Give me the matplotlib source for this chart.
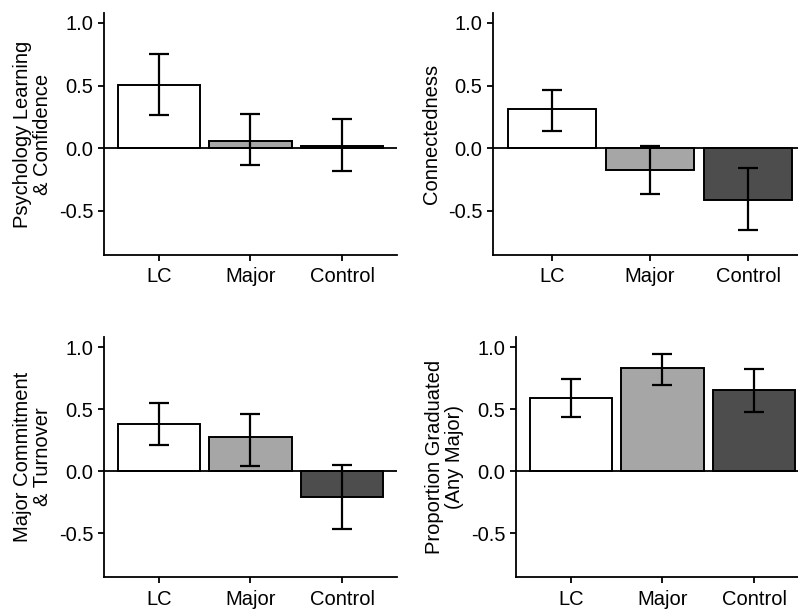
import numpy as np
import matplotlib.pyplot as plt

plt.rcParams['font.family'] = ['Liberation Sans', 'DejaVu Sans']

# groups and fills
groups = ['LC', 'Major', 'Control']
fills = ['#FFFFFF', '#A6A6A6', '#4D4D4D']

# values: mean, lower and upper error bound
learn_mean = [0.505, 0.058, 0.018]
learn_lo = [0.266, -0.138, -0.181]
learn_hi = [0.750, 0.271, 0.232]

conn_mean = [0.316, -0.176, -0.412]
conn_lo = [0.136, -0.364, -0.657]
conn_hi = [0.465, 0.013, -0.160]

commit_mean = [0.378, 0.274, -0.213]
commit_lo = [0.207, 0.037, -0.471]
commit_hi = [0.545, 0.463, 0.050]

grad_mean = [0.590, 0.832, 0.657]
grad_lo = [0.436, 0.694, 0.476]
grad_hi = [0.745, 0.947, 0.824]

panels = [
    ('Psychology Learning\n& Confidence', learn_mean, learn_lo, learn_hi, [0.1303, 0.5813, 0.3672, 0.3974]),
    ('Connectedness', conn_mean, conn_lo, conn_hi, [0.6178, 0.5813, 0.3935, 0.3974]),
    ('Major Commitment\n& Turnover', commit_mean, commit_lo, commit_hi, [0.1303, 0.0525, 0.3672, 0.3940]),
    ('Proportion Graduated\n(Any Major)', grad_mean, grad_lo, grad_hi, [0.6466, 0.0525, 0.3672, 0.3940]),
]

fig = plt.figure(figsize=(7.98, 6.09), dpi=100)

for label, mean, lo, hi, rect in panels:
    ax = fig.add_axes(rect)
    x = np.arange(1, len(groups) + 1)
    mean = np.array(mean)
    yerr = [mean - np.array(lo), np.array(hi) - mean]
    ax.bar(x, mean, width=0.9, color=fills, edgecolor='black', linewidth=1.4, zorder=2)
    ax.axhline(0, color='black', linewidth=1.3, zorder=2.5)
    ax.errorbar(x, mean, yerr=yerr, fmt='none', ecolor='black', elinewidth=1.6,
                capsize=7, capthick=1.6, zorder=3)
    ax.set_xlim(0.4, 3.6)
    ax.set_ylim(-0.855, 1.08)
    ax.set_yticks([-0.5, 0.0, 0.5, 1.0])
    ax.set_yticklabels(['-0.5', '0.0', '0.5', '1.0'])
    ax.set_xticks(x)
    ax.set_xticklabels(groups)
    ax.set_ylabel(label, fontsize=14.5, linespacing=1.05, labelpad=5)
    for s in ['top', 'right']:
        ax.spines[s].set_visible(False)
    for s in ['left', 'bottom']:
        ax.spines[s].set_linewidth(1.3)
    ax.tick_params(axis='both', labelsize=14.5, length=4, width=1.3, colors='black')
    ax.tick_params(axis='x', pad=5)

fig.savefig('out.png', dpi=100)
